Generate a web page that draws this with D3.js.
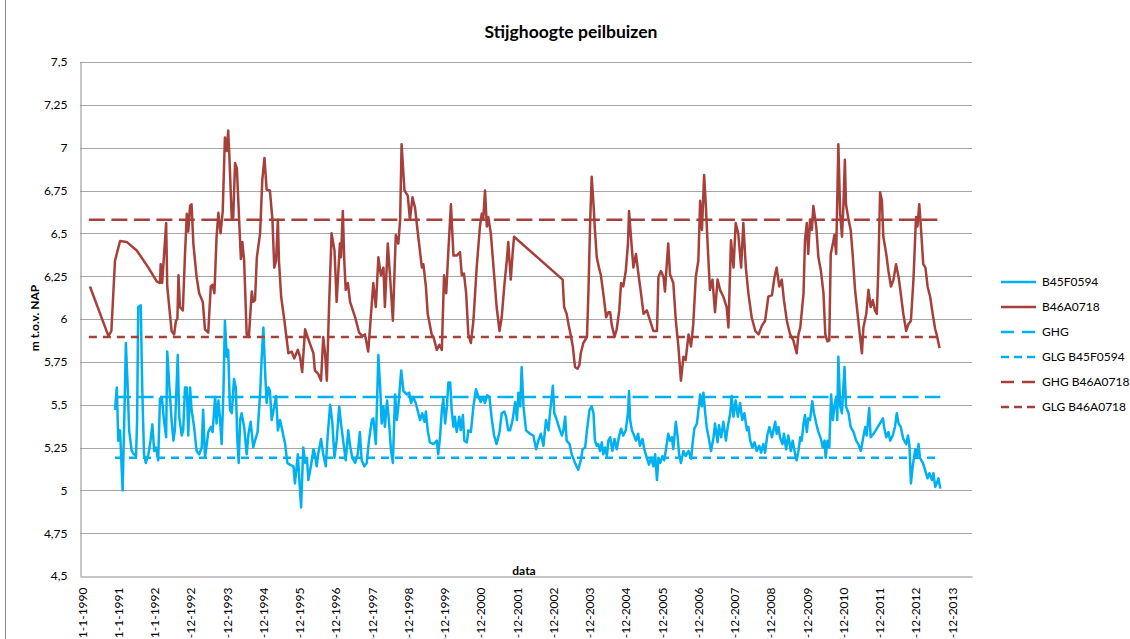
<!DOCTYPE html>
<html>
<head>
<meta charset="utf-8">
<script src="https://cdn.jsdelivr.net/npm/d3@7"></script>
<style>
  html, body { margin: 0; padding: 0; background: #fff; }
  svg { display: block; font-family: Lato, "Open Sans", sans-serif; }
</style>
</head>
<body>
<script>
// ---------------- DATA ----------------
const title = "Stijghoogte peilbuizen";
const yTitle = "m t.o.v. NAP";
const xTitle = "data";

const yTicks = [4.5, 4.75, 5, 5.25, 5.5, 5.75, 6, 6.25, 6.5, 6.75, 7, 7.25, 7.5];
const yTickLabels = ["4,5","4,75","5","5,25","5,5","5,75","6","6,25","6,5","6,75","7","7,25","7,5"];

const xTickDates = ["1990-01-01","1991-01-01","1992-01-01","1992-12-31","1993-12-31","1994-12-31","1995-12-31",
  "1996-12-30","1997-12-30","1998-12-30","1999-12-30","2000-12-29","2001-12-29","2002-12-29","2003-12-29",
  "2004-12-28","2005-12-28","2006-12-28","2007-12-28","2008-12-27","2009-12-27","2010-12-27","2011-12-27",
  "2012-12-26","2013-12-26"];
const xTickLabels = ["1-1-1990","1-1-1991","1-1-1992","31-12-1992","31-12-1993","31-12-1994","31-12-1995",
  "30-12-1996","30-12-1997","30-12-1998","30-12-1999","29-12-2000","29-12-2001","29-12-2002","29-12-2003",
  "28-12-2004","28-12-2005","28-12-2006","28-12-2007","27-12-2008","27-12-2009","27-12-2010","27-12-2011",
  "26-12-2012","26-12-2013"];
const xDomain = ["1989-12-12", "2014-07-15"];

const seriesNames = ["B45F0594","B46A0718","GHG","GLG B45F0594","GHG B46A0718","GLG B46A0718"];

// B46A0718 (decimal year, m NAP)
const b46Years = [
1990.22,1990.73,1990.81,1990.91,1991.05,1991.23,1991.51,1991.83,
1992.06,1992.15,1992.17,1992.21,1992.32,1992.35,1992.47,1992.54,1992.59,1992.63,1992.66,1992.70,1992.78,1992.84,1992.89,1992.93,1992.98,
1993.02,1993.07,1993.16,1993.23,1993.33,1993.39,1993.48,1993.55,1993.60,1993.65,1993.71,1993.76,1993.82,1993.88,1993.94,1993.99,
1994.03,1994.06,1994.13,1994.17,1994.22,1994.27,1994.34,1994.38,1994.42,1994.47,1994.54,1994.60,1994.68,1994.72,1994.77,1994.82,1994.91,1994.97,
1995.03,1995.09,1995.18,1995.25,1995.30,1995.35,1995.40,1995.43,1995.49,1995.58,1995.69,1995.78,1995.85,1995.95,
1996.01,1996.07,1996.15,1996.22,1996.31,1996.38,1996.42,1996.51,1996.59,1996.65,1996.70,1996.75,1996.81,1996.88,1996.96,
1997.02,1997.11,1997.14,1997.19,1997.23,1997.27,1997.33,1997.39,1997.53,1997.64,1997.73,1997.80,1997.89,1997.94,
1998.03,1998.10,1998.17,1998.24,1998.31,1998.35,1998.43,1998.49,1998.57,1998.65,1998.72,1998.77,1998.81,1998.89,1998.98,
1999.04,1999.11,1999.18,1999.27,1999.37,1999.41,1999.48,1999.53,1999.64,1999.69,1999.78,1999.85,1999.92,1999.98,
2000.04,2000.10,2000.17,2000.24,2000.33,2000.42,2000.47,2000.53,2000.59,2000.65,2000.72,2000.79,2000.88,2000.97,
2001.02,2001.06,2001.11,2001.16,2001.20,2001.27,2001.36,2001.43,2001.51,2001.57,2001.64,2001.71,2001.75,2001.82,2001.87,2001.91,
2003.25,2003.29,2003.36,2003.41,2003.47,2003.53,2003.59,2003.66,2003.71,2003.75,2003.82,2003.92,2003.96,
2004.01,2004.05,2004.10,2004.14,2004.19,2004.25,2004.30,2004.37,2004.45,2004.51,2004.56,2004.60,2004.68,2004.74,2004.81,2004.86,2004.92,2004.99,
2005.05,2005.08,2005.14,2005.20,2005.27,2005.34,2005.41,2005.48,2005.57,2005.66,2005.75,2005.85,2005.89,2005.96,
2006.03,2006.07,2006.12,2006.16,2006.21,2006.30,2006.37,2006.44,2006.51,2006.58,2006.64,2006.72,2006.79,2006.85,2006.92,2006.99,
2007.04,2007.09,2007.15,2007.20,2007.25,2007.31,2007.38,2007.45,2007.52,2007.59,2007.68,2007.77,2007.82,2007.89,2007.96,
2008.02,2008.09,2008.17,2008.23,2008.30,2008.37,2008.46,2008.56,2008.65,2008.74,2008.83,2008.92,
2009.02,2009.09,2009.15,2009.22,2009.29,2009.35,2009.43,2009.52,2009.61,2009.70,2009.75,2009.80,2009.89,2009.93,2009.98,
2010.02,2010.07,2010.12,2010.16,2010.24,2010.30,2010.37,2010.44,2010.49,2010.55,2010.60,2010.64,2010.70,2010.74,2010.79,2010.85,2010.90,2010.95,2010.99,
2011.03,2011.06,2011.13,2011.19,2011.25,2011.31,2011.38,2011.43,2011.50,2011.54,2011.62,2011.68,2011.74,2011.80,2011.86,2011.91,2011.95,
2012.00,2012.05,2012.09,2012.17,2012.23,2012.30,2012.37,2012.44,2012.51,2012.57,2012.64,2012.72,2012.78,2012.85,2012.92,2012.99,
2013.03,2013.08,2013.13,2013.19,2013.25,2013.31,2013.38,2013.45,2013.52,2013.56,2013.64];
const b46Values = [
6.19,5.90,5.93,6.34,6.455,6.45,6.40,6.30,
6.22,6.21,6.32,6.21,6.56,6.19,5.93,5.91,5.99,6.00,6.255,6.07,6.05,6.38,6.615,6.51,6.66,
6.67,6.44,6.245,6.15,6.10,5.94,5.92,6.19,6.20,6.15,6.48,6.62,6.50,6.63,7.06,6.98,
7.10,6.965,6.58,6.595,6.91,6.88,6.54,6.35,6.45,6.34,5.91,5.895,6.16,6.10,6.11,6.36,6.50,6.81,
6.94,6.755,6.75,6.58,6.30,6.34,6.58,6.34,6.13,5.99,5.80,5.81,5.77,5.82,
5.78,5.69,5.94,5.895,5.84,5.80,5.70,5.68,5.64,5.895,5.80,5.64,6.07,6.50,6.40,
6.10,6.44,6.36,6.63,6.34,6.17,6.21,6.10,6.01,5.92,5.90,5.91,5.81,5.95,
6.21,6.07,6.36,6.255,6.30,6.07,6.44,6.255,5.99,6.49,6.44,6.58,7.02,6.75,6.72,
6.58,6.71,6.65,6.48,6.30,6.32,6.19,6.03,5.91,5.895,5.82,5.85,5.82,6.255,
6.15,6.40,6.67,6.37,6.37,6.39,6.255,6.265,6.15,5.91,5.86,5.99,6.30,6.54,
6.615,6.58,6.75,6.54,6.595,6.50,6.26,6.07,5.93,6.01,6.19,6.34,6.45,6.23,6.38,6.48,
6.23,6.07,6.03,5.97,5.91,5.84,5.72,5.71,5.73,5.80,5.86,5.895,6.15,
6.58,6.83,6.67,6.52,6.36,6.30,6.26,6.15,6.01,6.04,6.04,5.97,5.895,5.94,6.05,6.21,6.19,6.28,
6.44,6.63,6.46,6.30,6.38,6.26,6.15,6.03,6.05,5.99,5.93,5.93,6.245,6.28,
6.245,6.16,6.32,6.44,6.26,6.21,5.99,5.84,5.64,5.78,5.76,5.91,5.84,5.97,6.245,6.34,
6.69,6.52,6.84,6.65,6.42,6.17,6.23,6.04,6.23,6.17,6.13,6.07,5.95,6.46,6.30,
6.56,6.50,6.30,6.56,6.30,6.15,6.01,5.93,5.91,5.96,5.99,6.13,
6.14,6.245,6.30,6.19,6.23,6.11,5.99,5.91,5.875,5.80,5.91,5.95,6.15,6.46,6.56,
6.38,6.58,6.52,6.66,6.54,6.36,6.28,6.15,5.91,5.87,5.875,6.38,6.44,6.49,6.38,7.02,6.615,6.48,6.67,
6.93,6.67,6.58,6.52,6.36,6.17,6.03,5.93,5.80,5.95,6.03,6.17,6.07,6.11,6.05,6.03,6.28,
6.74,6.69,6.48,6.38,6.28,6.19,6.23,6.32,6.245,6.15,6.03,5.93,5.97,5.99,6.23,6.595,
6.54,6.67,6.52,6.32,6.30,6.19,6.13,6.03,5.94,5.91,5.83];

// B45F0594 (decimal year, m NAP)
const b45Years = [
1990.91,1990.96,1991.00,1991.05,1991.12,1991.17,1991.21,1991.26,1991.30,1991.37,1991.43,1991.49,1991.52,1991.55,1991.62,1991.66,1991.71,1991.76,1991.83,1991.89,1991.94,1991.99,
1992.04,1992.10,1992.15,1992.20,1992.26,1992.32,1992.35,1992.41,1992.47,1992.52,1992.56,1992.64,1992.68,1992.75,1992.79,1992.84,1992.89,1992.93,1992.98,
1993.02,1993.09,1993.16,1993.23,1993.30,1993.34,1993.39,1993.44,1993.48,1993.55,1993.60,1993.67,1993.71,1993.76,1993.80,1993.85,1993.90,1993.94,1993.99,
1994.03,1994.08,1994.13,1994.19,1994.24,1994.28,1994.32,1994.36,1994.40,1994.47,1994.54,1994.59,1994.65,1994.72,1994.77,1994.84,1994.91,1994.95,
1995.00,1995.05,1995.09,1995.14,1995.18,1995.23,1995.30,1995.35,1995.40,1995.46,1995.52,1995.60,1995.66,1995.73,1995.83,1995.87,1995.95,1995.99,
1996.04,1996.10,1996.15,1996.20,1996.24,1996.31,1996.38,1996.42,1996.47,1996.51,1996.59,1996.65,1996.72,1996.77,1996.84,1996.90,1996.96,
1997.02,1997.09,1997.14,1997.20,1997.27,1997.34,1997.39,1997.45,1997.53,1997.60,1997.66,1997.71,1997.78,1997.85,1997.91,1997.99,
1998.03,1998.10,1998.17,1998.22,1998.26,1998.31,1998.35,1998.41,1998.46,1998.52,1998.57,1998.63,1998.68,1998.72,1998.80,1998.86,1998.95,
1999.02,1999.07,1999.13,1999.20,1999.26,1999.32,1999.38,1999.44,1999.48,1999.53,1999.59,1999.69,1999.78,1999.82,1999.87,1999.92,1999.96,
2000.01,2000.06,2000.10,2000.15,2000.19,2000.24,2000.28,2000.33,2000.40,2000.44,2000.50,2000.54,2000.61,2000.65,2000.72,2000.79,2000.86,2000.93,2000.99,
2001.05,2001.11,2001.17,2001.23,2001.30,2001.36,2001.43,2001.51,2001.57,2001.64,2001.69,2001.75,2001.80,2001.87,2001.94,2001.99,
2002.03,2002.08,2002.12,2002.17,2002.24,2002.35,2002.44,2002.52,2002.58,2002.65,2002.72,2002.79,2002.86,2002.90,2002.98,
2003.02,2003.09,2003.16,2003.23,2003.27,2003.32,2003.36,2003.44,2003.50,2003.59,2003.68,2003.75,2003.80,2003.87,2003.92,2003.99,
2004.05,2004.10,2004.14,2004.19,2004.23,2004.28,2004.33,2004.37,2004.42,2004.47,2004.51,2004.56,2004.62,2004.68,2004.74,2004.81,2004.86,2004.92,2004.99,
2005.05,2005.08,2005.11,2005.16,2005.20,2005.27,2005.33,2005.38,2005.45,2005.50,2005.57,2005.63,2005.69,2005.75,2005.80,2005.85,2005.89,2005.94,
2006.00,2006.05,2006.12,2006.16,2006.21,2006.26,2006.30,2006.37,2006.42,2006.46,2006.51,2006.58,2006.64,2006.72,2006.79,2006.83,2006.88,2006.95,2006.99,
2007.04,2007.09,2007.13,2007.18,2007.22,2007.29,2007.34,2007.41,2007.45,2007.52,2007.56,2007.62,2007.68,2007.75,2007.80,2007.87,2007.91,2007.96,
2008.02,2008.08,2008.14,2008.20,2008.26,2008.33,2008.37,2008.42,2008.48,2008.54,2008.60,2008.67,2008.72,2008.78,2008.83,2008.89,2008.95,
2009.02,2009.06,2009.11,2009.15,2009.20,2009.24,2009.31,2009.35,2009.41,2009.47,2009.54,2009.59,2009.66,2009.70,2009.75,2009.80,2009.84,2009.89,2009.93,2009.98,
2010.02,2010.07,2010.13,2010.18,2010.24,2010.30,2010.37,2010.42,2010.47,2010.50,2010.55,2010.60,2010.65,2010.70,2010.74,2010.79,2010.82,2010.85,2010.90,2010.95,2010.97,
2011.02,2011.06,2011.13,2011.19,2011.27,2011.34,2011.40,2011.47,2011.52,2011.59,2011.63,2011.70,2011.74,2011.82,
2012.08,2012.11,2012.17,2012.23,2012.28,2012.35,2012.41,2012.46,2012.51,2012.57,2012.64,2012.72,2012.77,2012.81,2012.85,2012.90,2012.97,
2013.01,2013.06,2013.10,2013.18,2013.24,2013.31,2013.36,2013.43,2013.47,2013.52,2013.56,2013.61,2013.66];
const b45Values = [
5.47,5.60,5.29,5.35,5.00,5.45,5.86,5.60,5.35,5.23,5.21,5.20,5.41,6.07,6.08,5.60,5.21,5.16,5.21,5.29,5.385,5.23,
5.25,5.175,5.535,5.545,5.41,5.31,5.81,5.60,5.41,5.29,5.35,5.79,5.43,5.32,5.35,5.60,5.60,5.32,5.60,
5.47,5.37,5.23,5.21,5.25,5.47,5.19,5.27,5.34,5.37,5.34,5.545,5.39,5.525,5.43,5.27,5.58,5.99,5.78,
5.82,5.47,5.45,5.65,5.60,5.31,5.16,5.41,5.45,5.37,5.21,5.33,5.40,5.25,5.29,5.34,5.56,5.76,
5.95,5.68,5.51,5.60,5.58,5.41,5.49,5.55,5.35,5.41,5.35,5.27,5.16,5.15,5.14,5.04,5.21,5.07,
4.90,5.25,5.16,5.19,5.06,5.14,5.24,5.21,5.14,5.21,5.30,5.21,5.14,5.31,5.50,5.40,5.19,
5.29,5.49,5.39,5.29,5.175,5.35,5.26,5.19,5.16,5.21,5.34,5.175,5.14,5.16,5.29,5.41,
5.42,5.27,5.79,5.60,5.39,5.49,5.37,5.525,5.41,5.23,5.16,5.56,5.41,5.49,5.70,5.58,5.56,
5.57,5.51,5.545,5.51,5.46,5.41,5.45,5.40,5.46,5.35,5.28,5.27,5.29,5.21,5.31,5.47,5.535,
5.39,5.49,5.63,5.63,5.47,5.37,5.43,5.34,5.43,5.35,5.44,5.29,5.28,5.35,5.34,5.49,5.59,5.545,5.515,
5.545,5.51,5.555,5.545,5.41,5.32,5.27,5.34,5.45,5.46,5.43,5.35,5.35,5.41,5.515,5.41,
5.57,5.49,5.72,5.49,5.35,5.33,5.32,5.24,5.29,5.33,5.26,5.41,5.35,5.45,5.61,
5.45,5.41,5.36,5.32,5.35,5.43,5.29,5.27,5.21,5.16,5.12,5.175,5.24,5.25,5.35,5.47,
5.49,5.45,5.29,5.26,5.27,5.23,5.28,5.21,5.25,5.20,5.29,5.31,5.23,5.30,5.24,5.32,5.36,5.32,5.35,
5.45,5.58,5.41,5.35,5.33,5.29,5.33,5.26,5.30,5.24,5.19,5.15,5.19,5.14,5.21,5.06,5.19,5.16,
5.20,5.175,5.27,5.33,5.29,5.31,5.24,5.40,5.31,5.21,5.16,5.23,5.20,5.23,5.185,5.27,5.36,5.39,5.46,
5.56,5.49,5.57,5.45,5.37,5.29,5.23,5.31,5.39,5.28,5.38,5.31,5.40,5.29,5.37,5.45,5.55,5.43,
5.525,5.43,5.51,5.41,5.45,5.35,5.37,5.29,5.25,5.28,5.23,5.26,5.22,5.27,5.22,5.32,5.37,
5.31,5.35,5.40,5.33,5.37,5.31,5.27,5.33,5.24,5.32,5.23,5.29,5.21,5.175,5.23,5.31,5.29,5.39,5.44,5.34,
5.42,5.41,5.52,5.45,5.39,5.34,5.30,5.25,5.29,5.19,5.29,5.25,5.56,5.41,5.49,5.545,5.41,5.78,5.49,5.45,5.535,
5.72,5.49,5.45,5.37,5.34,5.29,5.27,5.23,5.29,5.37,5.32,5.48,5.31,5.33,
5.42,5.37,5.31,5.34,5.29,5.32,5.37,5.45,5.39,5.37,5.30,5.27,5.32,5.26,5.04,5.14,5.24,
5.19,5.27,5.19,5.16,5.12,5.07,5.10,5.06,5.10,5.02,5.04,5.07,5.01];

// Reference levels (m NAP)
const ghgB45 = 5.545;
const glgB45 = 5.19;
const ghgB46 = 6.58;
const glgB46 = 5.895;

// ---------------- CHART ----------------
const W = 1130, H = 639;
const colBlue = "#00B0F0", colRed = "#A5403B";
const gridCol = "#A6A6A6", axisCol = "#8C8C8C";

const yearToDate = t => new Date(Date.UTC(1990, 0, 1) + (t - 1990) * 365.25 * 864e5);
const parse = s => new Date(s + "T00:00:00Z");

const plot = { left: 80, right: 972, top: 62, bottom: 576 };

const x = d3.scaleUtc().domain(xDomain.map(parse)).range([plot.left, plot.right]);
const y = d3.scaleLinear().domain([4.5, 7.5]).range([plot.bottom, plot.top]);

const svg = d3.select("body").append("svg").attr("width", W).attr("height", H);

// outer chart border (left edge visible)
svg.append("line").attr("x1", 5.5).attr("x2", 5.5).attr("y1", 0).attr("y2", H)
  .attr("stroke", "#8a8a8a").attr("stroke-width", 1);

// gridlines
svg.append("g").selectAll("line").data(yTicks.slice(1)).join("line")
  .attr("x1", plot.left).attr("x2", plot.right)
  .attr("y1", d => Math.round(y(d)) + 0.5).attr("y2", d => Math.round(y(d)) + 0.5)
  .attr("stroke", gridCol).attr("stroke-width", 1);

// y axis
const yAxis = d3.axisLeft(y).tickValues(yTicks).tickFormat((d, i) => yTickLabels[i]).tickSize(0).tickPadding(13);
const gy = svg.append("g").attr("transform", `translate(${plot.left + 0.5},0)`).call(yAxis);
gy.select(".domain").attr("stroke", axisCol);
gy.selectAll("text").attr("font-family", "Lato").attr("font-size", 12).attr("fill", "#000");

// x axis
const xAxis = d3.axisBottom(x).tickValues(xTickDates.map(parse)).tickFormat((d, i) => xTickLabels[i]).tickSize(0);
const gx = svg.append("g").attr("transform", `translate(0,${plot.bottom + 0.5})`).call(xAxis);
gx.select(".domain").attr("stroke", axisCol);
gx.selectAll("text")
  .attr("font-family", "Lato").attr("font-size", 12).attr("fill", "#000")
  .attr("transform", "rotate(-90)")
  .attr("x", -11).attr("y", 0).attr("dy", "0.35em")
  .style("text-anchor", "end");

// titles
svg.append("text").attr("x", 571).attr("y", 38).attr("text-anchor", "middle")
  .attr("font-family", "Lato").attr("font-weight", "bold").attr("font-size", 17.5).text(title);
svg.append("text").attr("transform", "translate(39,318) rotate(-90)").attr("text-anchor", "middle")
  .attr("font-family", "Lato").attr("font-weight", "bold").attr("font-size", 12).text(yTitle);
svg.append("text").attr("x", 524).attr("y", 575).attr("text-anchor", "middle")
  .attr("font-family", "Lato").attr("font-weight", "bold").attr("font-size", 12).text(xTitle);

// series
const line = d3.line().x(d => x(d[0])).y(d => y(d[1]));
const b45 = b45Years.map((t, i) => [yearToDate(t), b45Values[i]]);
const b46 = b46Years.map((t, i) => [yearToDate(t), b46Values[i]]);
const level = (years, v) => [[yearToDate(years[0]), v], [yearToDate(years[years.length - 1]), v]];

const series = [
  { name: seriesNames[0], data: b45, color: colBlue, dash: null },
  { name: seriesNames[1], data: b46, color: colRed, dash: null },
  { name: seriesNames[2], data: level(b45Years, ghgB45), color: colBlue, dash: "16,6.5" },
  { name: seriesNames[3], data: level(b45Years, glgB45), color: colBlue, dash: "8,6" },
  { name: seriesNames[4], data: level([1990.19, b46Years[b46Years.length - 1]], ghgB46), color: colRed, dash: "16,6.5" },
  { name: seriesNames[5], data: level([1990.19, b46Years[b46Years.length - 1]], glgB46), color: colRed, dash: "8,6" }
];

svg.append("g").selectAll("path").data(series).join("path")
  .attr("d", d => line(d.data))
  .attr("fill", "none")
  .attr("stroke", d => d.color)
  .attr("stroke-width", 2.5)
  .attr("stroke-linejoin", "round")
  .attr("stroke-dasharray", d => d.dash);

// legend
const legRows = [282, 307, 332, 357, 382, 407];
const leg = svg.append("g").selectAll("g").data(series).join("g")
  .attr("transform", (d, i) => `translate(0,${legRows[i]})`);
leg.append("line").attr("x1", 1001).attr("x2", 1036).attr("y1", 0).attr("y2", 0)
  .attr("stroke", d => d.color).attr("stroke-width", 2.5)
  .attr("stroke-dasharray", d => d.dash ? (d.dash === "8,6" ? "8,5" : "13,8") : null);
leg.append("text").attr("x", 1042).attr("y", 0).attr("dy", "0.35em")
  .attr("font-family", "Lato").attr("font-size", 12).attr("fill", "#000")
  .text(d => d.name);
</script>
</body>
</html>
